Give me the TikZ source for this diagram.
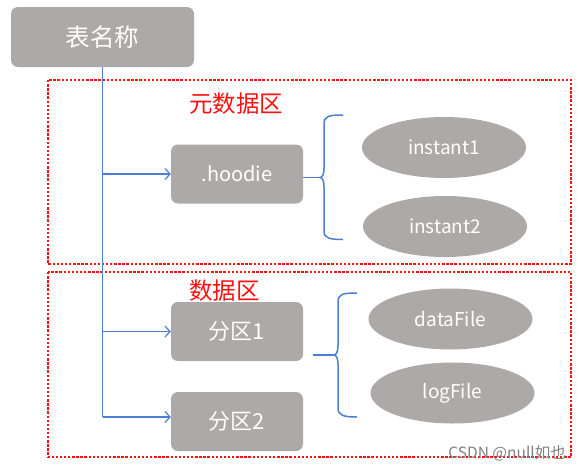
\documentclass[tikz,border=0pt]{standalone}
\usepackage{fontspec}
\setmainfont{Noto Sans CJK SC}
\usetikzlibrary{arrows.meta,shapes.geometric}
\definecolor{boxgray}{HTML}{ADA9A8}
\definecolor{lineblue}{HTML}{4A7FD4}
\definecolor{zonered}{HTML}{FF1010}
\tikzset{
  rbox/.style={rectangle, rounded corners=7pt, fill=boxgray, text=white, minimum width=132pt, minimum height=59pt, inner sep=0pt, font=\fontsize{20}{22}\selectfont},
  oval/.style={ellipse, fill=boxgray, text=white, minimum width=164pt, minimum height=61pt, inner sep=0pt, font=\fontsize{19}{22}\selectfont},
  zone/.style={draw=zonered, line width=2.6pt, dash pattern=on 2.4pt off 1.7pt},
  zonelabel/.style={text=zonered, font=\fontsize{23.5}{26}\selectfont, inner sep=0pt},
  trunk/.style={draw=lineblue, line width=1.2pt},
  branch/.style={draw=lineblue, line width=1.2pt, -{Straight Barb[length=5pt,width=11pt,line width=1.2pt]}},
  bracestyle/.style={draw=lineblue, line width=1.5pt},
}
\begin{document}
\begin{tikzpicture}[x=1pt,y=-1pt]
\useasboundingbox (0,0) rectangle (580,471);
% zones
\draw[zone] (48,80) rectangle (571,264);
\draw[zone] (48,272) rectangle (571,457);
\node[zonelabel, anchor=west] (lab1) at (189,104) {元数据区};
\node[zonelabel, anchor=west] (lab2) at (189,291) {数据区};
% nodes
\node[rbox, minimum width=183pt, minimum height=60pt, font=\fontsize{24.5}{26}\selectfont] (root) at (102.5,37) {表名称};
\node[rbox] (hoodie) at (237,174) {.hoodie};
\node[rbox, font=\fontsize{22}{24}\selectfont] (p1) at (237,331.5) {分区1};
\node[rbox, font=\fontsize{22}{24}\selectfont] (p2) at (237,421.5) {分区2};
\node[oval] (i1) at (444,147.5) {instant1};
\node[oval] (i2) at (445,226.5) {instant2};
\node[oval] (df) at (450.5,319) {dataFile};
\node[oval] (lf) at (452.5,393) {logFile};
% trunk and branches
\coordinate (tb) at (102.5,417);
\draw[trunk] (root.south) -- (tb);
\draw[branch] (root.south |- hoodie.west) -- (hoodie.west);
\draw[branch] (root.south |- p1.west) -- (p1.west);
\draw[branch] (tb) -- (tb -| p2.west);
% brace 1
\coordinate (b1t) at (343,115);
\coordinate (b1m) at (320,177.5);
\coordinate (b1b) at (343,239.5);
\draw[bracestyle] (b1t) .. controls (329,115) and (324,116) .. (324,124) -- (324,168)
  .. controls (324,175) and (322,177.5) .. (b1m)
  .. controls (322,177.5) and (324,180) .. (324,187) -- (324,231)
  .. controls (324,238) and (329,239.5) .. (b1b);
\draw[bracestyle] (hoodie.east |- b1m) -- (b1m);
% brace 2
\coordinate (b2t) at (357,293);
\coordinate (b2m) at (334,355);
\coordinate (b2b) at (357,417);
\coordinate (b2s) at (313,355);
\draw[bracestyle] (b2t) .. controls (343,293) and (338,294) .. (338,302) -- (338,346)
  .. controls (338,352) and (336,355) .. (b2m)
  .. controls (336,355) and (338,358) .. (338,364) -- (338,408)
  .. controls (338,415) and (343,417) .. (b2b);
\draw[bracestyle] (b2s) -- (b2m);
% watermark
\node[text=black!50, font=\fontsize{15.5}{16}\selectfont, anchor=east, inner sep=0pt] (wm) at (566,453) {CSDN @null如也};
\end{tikzpicture}
\end{document}
